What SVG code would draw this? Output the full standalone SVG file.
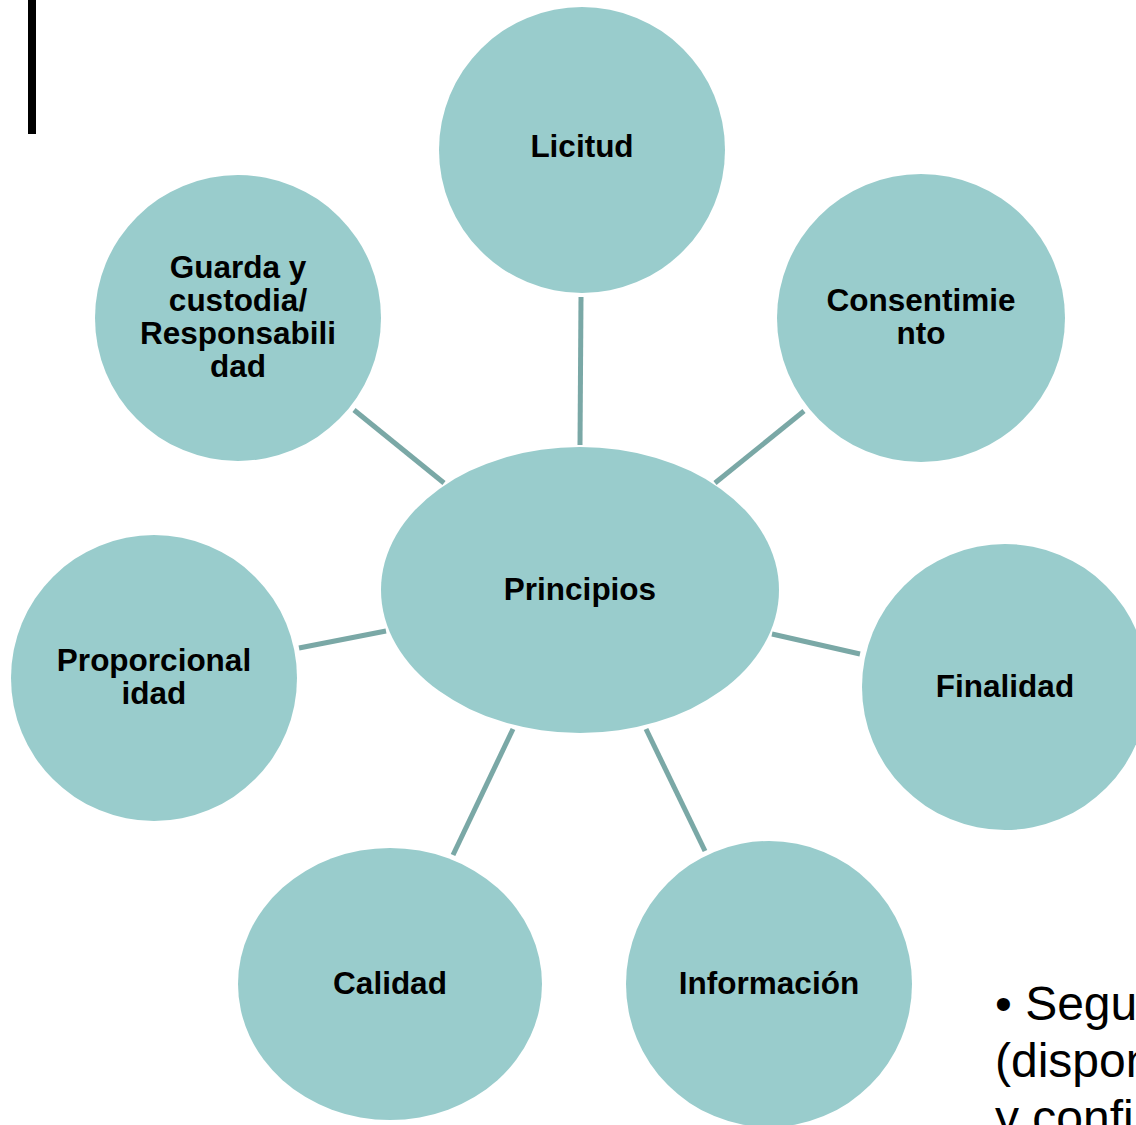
<svg xmlns="http://www.w3.org/2000/svg" width="1136" height="1125" viewBox="0 0 1136 1125">
<style>
.n{fill:#99CCCC}
.t{font-family:"Liberation Sans",Arial,sans-serif;font-weight:bold;font-size:31.5px;fill:#000;text-anchor:middle}
.c{stroke:#7AA8A6;stroke-width:5;fill:none}
.b{font-family:"Liberation Sans",Arial,sans-serif;font-size:48px;fill:#000}
</style>
<rect x="28" y="0" width="8" height="134" fill="#000"/>
<g id="connectors">
<line class="c" x1="581" y1="297" x2="580" y2="445"/>
<line class="c" x1="804" y1="411" x2="715" y2="483"/>
<line class="c" x1="354" y1="410" x2="444" y2="483"/>
<line class="c" x1="299" y1="648" x2="386" y2="631"/>
<line class="c" x1="772" y1="634" x2="860" y2="654"/>
<line class="c" x1="513" y1="729" x2="453" y2="855"/>
<line class="c" x1="646" y1="729" x2="705" y2="851"/>
</g>
<g id="principios"><ellipse class="n" cx="580" cy="590" rx="199" ry="143"/><text class="t" x="580" y="600">Principios</text></g>
<g id="licitud"><circle class="n" cx="582" cy="150" r="143"/><text class="t" x="582" y="157">Licitud</text></g>
<g id="consentimiento"><circle class="n" cx="921" cy="318" r="144"/><text class="t" x="921" y="311">Consentimie</text><text class="t" x="921" y="344">nto</text></g>
<g id="guarda"><circle class="n" cx="238" cy="318" r="143"/><text class="t" x="238" y="278">Guarda y</text><text class="t" x="238" y="311">custodia/</text><text class="t" x="238" y="344">Responsabili</text><text class="t" x="238" y="377">dad</text></g>
<g id="proporcionalidad"><circle class="n" cx="154" cy="678" r="143"/><text class="t" x="154" y="671">Proporcional</text><text class="t" x="154" y="704">idad</text></g>
<g id="finalidad"><circle class="n" cx="1005" cy="687" r="143"/><text class="t" x="1005" y="697">Finalidad</text></g>
<g id="calidad"><ellipse class="n" cx="390" cy="984" rx="152" ry="136"/><text class="t" x="390" y="994">Calidad</text></g>
<g id="informacion"><circle class="n" cx="769" cy="984" r="143"/><text class="t" x="769" y="994">Información</text></g>
<text class="b" x="995" y="1020">• Segu</text>
<text class="b" x="995" y="1077">(dispon</text>
<text class="b" x="995" y="1134">y confi</text>
</svg>
